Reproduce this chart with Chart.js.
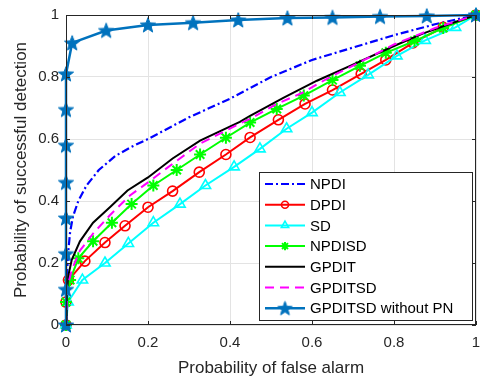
<!DOCTYPE html>
<html>
<head>
<meta charset="utf-8">
<script src="https://cdn.jsdelivr.net/npm/chart.js@4.4.1/dist/chart.umd.min.js"></script>
<style>
  html,body{margin:0;padding:0;background:#fff;}
  #wrap{width:480px;height:380px;position:relative;}
</style>
</head>
<body>
<div id="wrap"><canvas id="c" width="480" height="380"></canvas></div>
<script>
// ---------- data ----------
const xTicks = [0, 0.2, 0.4, 0.6, 0.8, 1];
const yTicks = [0, 0.2, 0.4, 0.6, 0.8, 1];

const npdiX = [0, 0.002, 0.005, 0.01, 0.017, 0.03, 0.05, 0.08, 0.12, 0.16, 0.2, 0.3, 0.4, 0.5, 0.6, 0.7, 0.8, 0.9, 1];
const npdiY = [0, 0.15, 0.23, 0.3, 0.35, 0.4, 0.45, 0.5, 0.545, 0.575, 0.6, 0.67, 0.73, 0.8, 0.855, 0.895, 0.935, 0.97, 1];

const dpdiX = [0, 0, 0.006, 0.046, 0.095, 0.144, 0.2, 0.26, 0.325, 0.39, 0.449, 0.518, 0.583, 0.65, 0.72, 0.78, 0.846, 0.92, 1];
const dpdiY = [0, 0.074, 0.145, 0.206, 0.266, 0.32, 0.38, 0.432, 0.493, 0.55, 0.605, 0.662, 0.713, 0.758, 0.81, 0.855, 0.91, 0.96, 1];

const sdX = [0, 0.005, 0.04, 0.095, 0.152, 0.213, 0.278, 0.34, 0.41, 0.473, 0.538, 0.6, 0.668, 0.737, 0.807, 0.876, 0.95, 1];
const sdY = [0, 0.074, 0.145, 0.2, 0.263, 0.33, 0.39, 0.45, 0.51, 0.568, 0.633, 0.685, 0.75, 0.807, 0.868, 0.918, 0.96, 1];

const npdisdX = [0, 0, 0.01, 0.03, 0.066, 0.112, 0.16, 0.213, 0.27, 0.327, 0.39, 0.449, 0.514, 0.58, 0.65, 0.717, 0.78, 0.85, 0.92, 1];
const npdisdY = [0, 0.074, 0.145, 0.215, 0.27, 0.33, 0.39, 0.45, 0.5, 0.55, 0.604, 0.653, 0.697, 0.74, 0.79, 0.836, 0.878, 0.916, 0.958, 1];

const gpditX = [0, 0.002, 0.005, 0.014, 0.034, 0.066, 0.107, 0.15, 0.2, 0.26, 0.327, 0.424, 0.449, 0.53, 0.612, 0.693, 0.8, 0.87, 0.944, 1];
const gpditY = [0, 0.1, 0.155, 0.21, 0.27, 0.33, 0.38, 0.434, 0.476, 0.537, 0.595, 0.655, 0.675, 0.733, 0.788, 0.836, 0.9, 0.94, 0.975, 1];

const gpditsdX = [0, 0.003, 0.014, 0.034, 0.066, 0.107, 0.156, 0.2, 0.26, 0.327, 0.424, 0.449, 0.514, 0.578, 0.644, 0.71, 0.8, 0.9, 1];
const gpditsdY = [0, 0.12, 0.177, 0.24, 0.295, 0.354, 0.418, 0.46, 0.52, 0.585, 0.65, 0.665, 0.713, 0.75, 0.8, 0.843, 0.905, 0.958, 1];

const noPnX = [0, 0, 0, 0, 0, 0, 0, 0, 0.015, 0.098, 0.2, 0.31, 0.42, 0.54, 0.65, 0.766, 0.88, 1];
const noPnY = [0, 0.115, 0.23, 0.345, 0.46, 0.58, 0.695, 0.81, 0.91, 0.95, 0.968, 0.975, 0.984, 0.99, 0.992, 0.995, 0.997, 1];

const pts = (xs, ys) => xs.map((x,i)=>({x, y:ys[i]}));
const FONT = '"Liberation Sans", Arial, Helvetica, sans-serif';
const INK = '#262626';

// filled pentagram marker (matlab 'p')
function pentagram(r, color){
  const c = document.createElement('canvas');
  const s = Math.ceil(r*2+4); c.width=s; c.height=s;
  const g = c.getContext('2d'); const cx=s/2, cy=s/2+r*0.08;
  g.beginPath();
  for(let i=0;i<10;i++){
    const rr = i%2 ? r*0.42 : r;
    const a = -Math.PI/2 + i*Math.PI/5;
    g.lineTo(cx+rr*Math.cos(a), cy+rr*Math.sin(a));
  }
  g.closePath(); g.fillStyle=color; g.fill();
  g.lineWidth=1; g.strokeStyle=color; g.stroke();
  return c;
}
const starBig = pentagram(8, '#0072BD');
const starSmall = pentagram(7.5, '#0072BD');

const datasets = [
  {label:'NPDI', data:pts(npdiX,npdiY), borderColor:'#0000FF', borderWidth:2.2, borderDash:[8,3,2,3], pointRadius:0, order:7},
  {label:'DPDI', data:pts(dpdiX,dpdiY), borderColor:'#FF0000', borderWidth:2, pointStyle:'circle', pointRadius:5, pointBorderWidth:1.6, pointBackgroundColor:'rgba(0,0,0,0)', pointBorderColor:'#FF0000', order:6},
  {label:'SD', data:pts(sdX,sdY), borderColor:'#00FFFF', borderWidth:2, pointStyle:'triangle', pointRadius:6, pointBorderWidth:1.6, pointBackgroundColor:'rgba(0,0,0,0)', pointBorderColor:'#00FFFF', order:5},
  {label:'NPDISD', data:pts(npdisdX,npdisdY), borderColor:'#00FF00', borderWidth:2, pointStyle:'star', pointRadius:6, pointBorderWidth:2, pointBorderColor:'#00FF00', order:4},
  {label:'GPDIT', data:pts(gpditX,gpditY), borderColor:'#000000', borderWidth:2, pointRadius:0, order:3},
  {label:'GPDITSD', data:pts(gpditsdX,gpditsdY), borderColor:'#FF00FF', borderWidth:2, borderDash:[9,6], pointRadius:0, order:2},
  {label:'GPDITSD without PN', data:pts(noPnX,noPnY), borderColor:'#0072BD', borderWidth:2.5, pointStyle:starBig, pointRadius:8, order:1},
].map(d=>Object.assign({showLine:true, fill:false, tension:0, clip:false}, d));

// box, inward ticks and legend drawn on canvas
const matlabFrame = {
  id:'matlabFrame',
  afterDatasetsDraw(chart){
    const {ctx, chartArea:a, scales:{x, y}} = chart;
    ctx.save();
    ctx.strokeStyle = INK; ctx.lineWidth = 1;
    ctx.strokeRect(a.left+0.5, a.top+0.5, a.right-a.left-1, a.bottom-a.top-1);
    ctx.beginPath();
    xTicks.forEach(v=>{ const px=Math.round(x.getPixelForValue(v))+0.5;
      ctx.moveTo(px,a.bottom); ctx.lineTo(px,a.bottom-4); ctx.moveTo(px,a.top); ctx.lineTo(px,a.top+4); });
    yTicks.forEach(v=>{ const py=Math.round(y.getPixelForValue(v))+0.5;
      ctx.moveTo(a.left,py); ctx.lineTo(a.left+4,py); ctx.moveTo(a.right,py); ctx.lineTo(a.right-4,py); });
    ctx.stroke();

    // legend
    const L={x:259, y:172, w:213, h:148};
    ctx.fillStyle='#fff'; ctx.fillRect(L.x,L.y,L.w,L.h);
    ctx.strokeStyle=INK; ctx.lineWidth=1; ctx.strokeRect(L.x+0.5,L.y+0.5,L.w,L.h);
    ctx.font = '15px '+FONT; ctx.textBaseline='middle'; ctx.textAlign='left';
    chart.data.datasets.forEach((d,i)=>{
      const yy = L.y + 12 + i*20.7;
      ctx.save();
      ctx.strokeStyle=d.borderColor; ctx.lineWidth=d.borderWidth;
      ctx.setLineDash(d.borderDash||[]);
      ctx.beginPath(); ctx.moveTo(L.x+6,yy); ctx.lineTo(L.x+46,yy); ctx.stroke();
      ctx.setLineDash([]);
      if(d.pointRadius){
        const ps = d.pointStyle===starBig ? starSmall : d.pointStyle;
        ctx.strokeStyle = d.pointBorderColor || d.borderColor;
        ctx.fillStyle = d.pointBackgroundColor || 'rgba(0,0,0,0)';
        ctx.lineWidth = d.pointBorderWidth || 1;
        Chart.helpers.drawPoint(ctx, {pointStyle:ps, radius:d.pointRadius*0.7, borderWidth:d.pointBorderWidth||1, rotation:0}, L.x+26, yy);
      }
      ctx.restore();
      ctx.fillStyle='#000'; ctx.fillText(d.label, L.x+51, yy+1);
    });
    ctx.restore();
  }
};

const tickFmt = v => (v===0 ? '0' : v===1 ? '1' : v.toFixed(1));

new Chart(document.getElementById('c'), {
  type:'scatter',
  data:{datasets},
  options:{
    responsive:false, animation:false, devicePixelRatio:1,
    layout:{padding:{top:15, right:4, left:0, bottom:0}},
    plugins:{legend:{display:false}, tooltip:{enabled:false}},
    scales:{
      x:{type:'linear', min:0, max:1,
         afterBuildTicks: s => { s.ticks = xTicks.map(v=>({value:v})); },
         afterFit: s => { s.height = 55; s.paddingRight = 0; s.paddingLeft = 0; },
         grid:{color:'#e3e3e3', drawTicks:false}, border:{display:false},
         ticks:{color:INK, font:{family:FONT, size:15}, padding:9, callback:tickFmt, maxRotation:0, align:'center'},
         title:{display:true, text:'Probability of false alarm', color:INK, font:{family:FONT, size:17}, padding:{top:5, bottom:1}}},
      y:{type:'linear', min:0, max:1,
         afterBuildTicks: s => { s.ticks = yTicks.map(v=>({value:v})); },
         afterFit: s => { s.width = 66; s.paddingTop = 0; s.paddingBottom = 0; },
         grid:{color:'#e3e3e3', drawTicks:false}, border:{display:false},
         ticks:{color:INK, font:{family:FONT, size:15}, padding:7, callback:tickFmt},
         title:{display:true, text:'Probability of successful detection', color:INK, font:{family:FONT, size:17}, padding:{top:11, bottom:0}}}
    }
  },
  plugins:[matlabFrame, {
    id:'fixArea',
    afterLayout(chart){
      // keep the axes box where the figure has it
      const a = chart.chartArea, x = chart.scales.x;
      const right = 476;
      if (a.right !== right){ a.right = right; a.width = right - a.left; x.right = right; x.width = right - x.left; x.configure(); }
    }
  }]
});
</script>
</body>
</html>
